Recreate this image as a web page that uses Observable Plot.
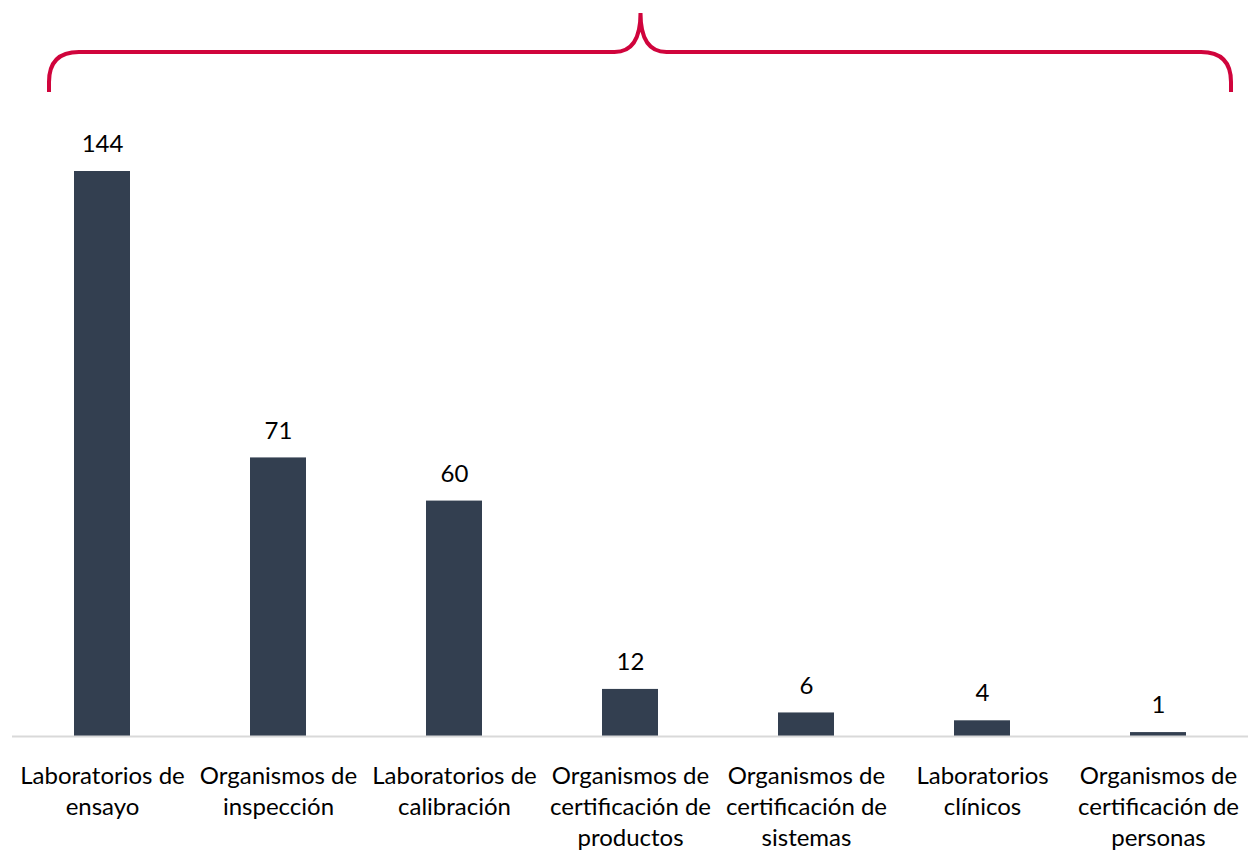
<!DOCTYPE html>
<html>
<head>
<meta charset="utf-8">
<script src="https://cdn.jsdelivr.net/npm/d3@7"></script>
<script src="https://cdn.jsdelivr.net/npm/@observablehq/plot@0.6"></script>
<style>
  html, body { margin: 0; padding: 0; background: #fff; }
  #chart svg { display: block; }
</style>
</head>
<body>
<div id="chart"></div>
<script>
const categories = [
  "Laboratorios de ensayo",
  "Organismos de inspección",
  "Laboratorios de calibración",
  "Organismos de certificación de productos",
  "Organismos de certificación de sistemas",
  "Laboratorios clínicos",
  "Organismos de certificación de personas"
];
const tickLabels = [
  "Laboratorios de\nensayo",
  "Organismos de\ninspección",
  "Laboratorios de\ncalibración",
  "Organismos de\ncertificación de\nproductos",
  "Organismos de\ncertificación de\nsistemas",
  "Laboratorios\nclínicos",
  "Organismos de\ncertificación de\npersonas"
];
const values = [144, 71, 60, 12, 6, 4, 1];

const data = categories.map((c, i) => ({category: c, value: values[i]}));
const labelOf = new Map(categories.map((c, i) => [c, tickLabels[i]]));

const FONT = "Lato, 'Open Sans', sans-serif";
const BAR = "#333f50";
const RED = "#d0043c";
const FS = 24;

// decorative curly brace spanning the whole chart
function brace(index, scales, values, dims) {
  const left = 49, right = 1231, bottom = 92, top = 52, tipY = 13, r = 30;
  const mid = (left + right) / 2 + 0.5;
  const c = 26;
  const d = [
    `M${left},${bottom}`,
    `L${left},${top + r}`,
    `Q${left},${top} ${left + r},${top}`,
    `L${mid - c},${top}`,
    `Q${mid},${top} ${mid},${tipY}`,
    `Q${mid},${top} ${mid + c},${top}`,
    `L${right - r},${top}`,
    `Q${right},${top} ${right},${top + r}`,
    `L${right},${bottom}`
  ].join(" ");
  const p = document.createElementNS("http://www.w3.org/2000/svg", "path");
  p.setAttribute("d", d);
  p.setAttribute("fill", "none");
  p.setAttribute("stroke", RED);
  p.setAttribute("stroke-width", 4);
  return p;
}

const chart = Plot.plot({
  width: 1248,
  height: 851,
  marginTop: 171,
  marginBottom: 115,
  marginLeft: 12,
  marginRight: 0,
  style: {fontFamily: FONT, fontSize: FS + "px", color: "#000", background: "#fff"},
  x: {domain: categories, paddingInner: 0.68, paddingOuter: 0.34, label: null},
  y: {domain: [0, 144], axis: null},
  marks: [
    Plot.barY(data, {x: "category", y: "value", fill: BAR}),
    Plot.ruleY([0], {stroke: "#d9d9d9", strokeWidth: 2}),
    Plot.text(data, {x: "category", y: "value", text: d => String(d.value), dy: -27, fontSize: FS, fill: "#000", lineAnchor: "middle"}),
    Plot.axisX({tickSize: 0, tickPadding: 26, fontSize: FS, lineHeight: 1.29, fill: "#000", tickFormat: d => labelOf.get(d), label: null}),
    brace
  ]
});
document.getElementById("chart").appendChild(chart);
</script>
</body>
</html>
